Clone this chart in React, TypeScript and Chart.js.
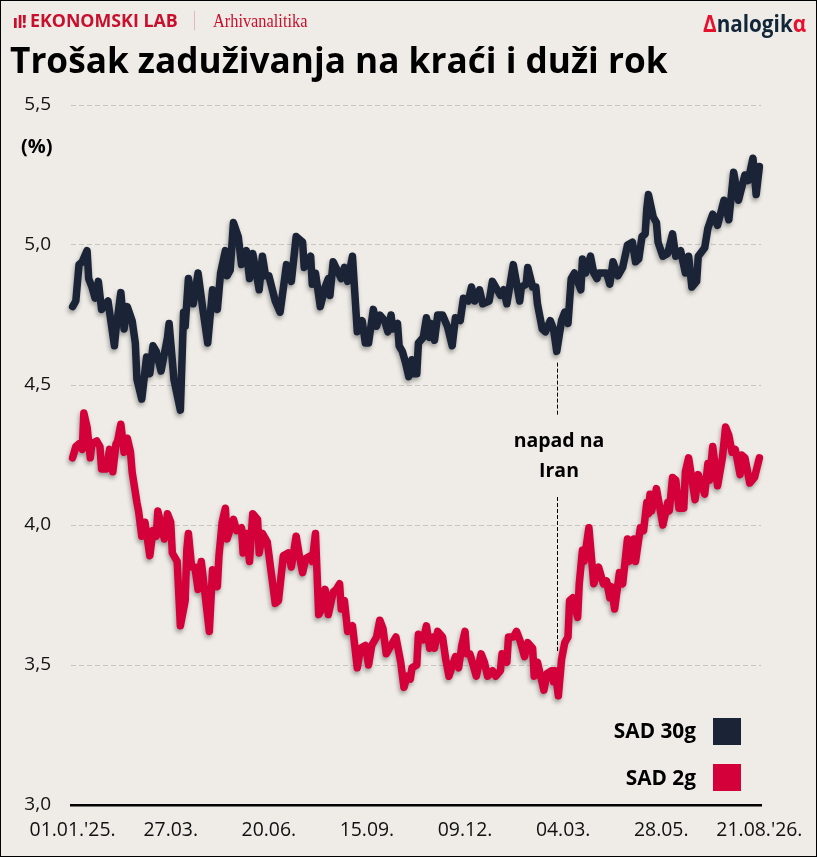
import { useEffect, useRef } from "react";
import Chart from "chart.js/auto";

const tickDays = [0, 61, 122, 183, 244, 305, 366, 427];
const tickLabels = ["01.01.'25.", "27.03.", "20.06.", "15.09.", "09.12.", "04.03.", "28.05.", "21.08.'26."];

// trading day index since 01.01.2025, values in %
const days30y = [
  0, 2, 4, 6, 9, 10, 12, 14, 16, 18, 22, 26, 27, 30, 32, 34, 37, 39, 40, 43, 46, 48, 50, 52, 55, 59, 60, 63, 67, 69,
  70, 72, 75, 78, 81, 84, 87, 90, 92, 95, 96, 98, 100, 103, 105, 108, 110, 112, 116, 118, 120, 122, 126, 129, 133, 136, 139, 143, 144, 148,
  149, 151, 154, 157, 159, 160, 162, 167, 169, 171, 174, 177, 180, 182, 184, 187, 189, 191, 194, 196, 198, 199, 202, 203, 205, 207, 209, 211, 212, 214,
  215, 218, 220, 222, 223, 225, 227, 230, 233, 236, 238, 241, 243, 246, 248, 250, 253, 255, 259, 261, 266, 268, 270, 274, 278, 279, 282, 283, 286, 288,
  289, 292, 294, 297, 299, 301, 304, 306, 308, 310, 312, 316, 317, 319, 322, 324, 326, 327, 332, 334, 336, 339, 342, 345, 348, 350, 352, 354, 356, 357,
  358, 361, 363, 364, 367, 370, 373, 375, 378, 381, 383, 385, 388, 389, 393, 395, 398, 401, 405, 408, 411, 414, 418, 420, 423, 425, 427,
];
const values30y = [
  4.78, 4.8, 4.93, 4.94, 4.98, 4.88, 4.85, 4.81, 4.87, 4.77, 4.8, 4.64, 4.7, 4.83, 4.7, 4.78, 4.73, 4.65, 4.52, 4.45, 4.6, 4.54, 4.64, 4.62, 4.55, 4.67, 4.72, 4.52, 4.41, 4.76,
  4.71, 4.88, 4.79, 4.9, 4.77, 4.65, 4.84, 4.77, 4.9, 4.98, 4.89, 4.91, 5.08, 5.03, 4.93, 4.98, 4.88, 4.97, 4.84, 4.96, 4.89, 4.89, 4.8, 4.76, 4.93, 4.87, 5.03, 5.01, 4.92, 4.96,
  4.86, 4.9, 4.78, 4.85, 4.88, 4.82, 4.94, 4.88, 4.92, 4.87, 4.96, 4.69, 4.73, 4.65, 4.65, 4.77, 4.71, 4.75, 4.73, 4.69, 4.75, 4.7, 4.72, 4.64, 4.62, 4.58, 4.53, 4.59, 4.54, 4.54,
  4.65, 4.67, 4.74, 4.67, 4.72, 4.66, 4.75, 4.75, 4.71, 4.64, 4.74, 4.73, 4.81, 4.8, 4.85, 4.8, 4.84, 4.79, 4.8, 4.87, 4.82, 4.84, 4.79, 4.93, 4.8, 4.85, 4.86, 4.92, 4.85, 4.85,
  4.79, 4.7, 4.69, 4.73, 4.7, 4.62, 4.73, 4.76, 4.72, 4.88, 4.9, 4.84, 4.95, 4.9, 4.96, 4.9, 4.88, 4.9, 4.9, 4.86, 4.94, 4.89, 4.92, 5.0, 5.01, 4.94, 4.95, 5.03, 5.04, 5.13,
  5.18, 5.1, 5.08, 5.01, 4.96, 4.97, 5.04, 4.96, 4.98, 4.9, 4.96, 4.85, 4.87, 4.96, 4.99, 5.06, 5.11, 5.07, 5.16, 5.09, 5.26, 5.16, 5.25, 5.23, 5.31, 5.18, 5.28,
];

const days2y = [
  0, 2, 4, 6, 7, 9, 11, 12, 15, 17, 18, 21, 23, 25, 27, 28, 30, 32, 34, 36, 37, 40, 41, 43, 45, 48, 50, 52, 53, 57,
  59, 61, 62, 65, 67, 70, 71, 72, 74, 76, 78, 80, 85, 87, 90, 91, 93, 95, 96, 100, 102, 105, 106, 108, 110, 112, 115, 116, 118, 121,
  126, 128, 131, 134, 136, 139, 141, 143, 145, 148, 149, 151, 153, 155, 157, 159, 162, 164, 166, 167, 169, 171, 174, 177, 179, 182, 184, 186, 189, 191,
  193, 195, 201, 204, 206, 208, 210, 211, 214, 215, 218, 220, 222, 224, 225, 227, 230, 232, 234, 238, 240, 242, 244, 245, 247, 251, 254, 256, 258, 261,
  263, 266, 267, 270, 271, 274, 276, 278, 281, 283, 286, 287, 289, 291, 293, 295, 298, 299, 300, 302, 304, 306, 308, 309, 311, 314, 315, 317, 318, 321,
  324, 327, 330, 332, 334, 335, 337, 340, 342, 345, 346, 349, 350, 353, 355, 357, 358, 359, 360, 363, 367, 370, 371, 373, 375, 377, 380, 381, 383, 387,
  389, 393, 395, 396, 398, 401, 404, 406, 408, 410, 412, 415, 416, 418, 421, 424, 427,
];
const values2y = [
  4.24, 4.28, 4.29, 4.27, 4.4, 4.35, 4.24, 4.29, 4.3, 4.28, 4.2, 4.2, 4.27, 4.19, 4.29, 4.3, 4.36, 4.26, 4.31, 4.26, 4.19, 4.08, 4.05, 3.96, 4.01, 3.89, 3.98, 3.96, 4.05, 3.95,
  4.04, 4.01, 3.9, 3.87, 3.64, 3.73, 3.91, 3.97, 3.85, 3.85, 3.77, 3.87, 3.62, 3.84, 3.78, 3.89, 4.01, 4.06, 3.95, 4.02, 3.98, 3.99, 3.9, 3.97, 3.87, 4.04, 4.02, 3.9, 3.97, 3.94,
  3.72, 3.73, 3.89, 3.9, 3.85, 3.96, 3.89, 3.83, 3.88, 3.89, 3.87, 3.97, 3.68, 3.7, 3.77, 3.68, 3.76, 3.77, 3.79, 3.7, 3.73, 3.62, 3.64, 3.49, 3.56, 3.57, 3.5, 3.57, 3.6, 3.66,
  3.63, 3.54, 3.6, 3.51, 3.42, 3.46, 3.45, 3.49, 3.5, 3.61, 3.59, 3.64, 3.56, 3.6, 3.56, 3.62, 3.6, 3.52, 3.46, 3.53, 3.49, 3.57, 3.62, 3.54, 3.54, 3.46, 3.54, 3.51, 3.46, 3.48,
  3.46, 3.48, 3.54, 3.51, 3.6, 3.6, 3.62, 3.59, 3.53, 3.58, 3.56, 3.46, 3.51, 3.46, 3.41, 3.47, 3.48, 3.44, 3.48, 3.39, 3.52, 3.58, 3.6, 3.73, 3.74, 3.67, 3.79, 3.91, 3.87, 3.99,
  3.79, 3.85, 3.79, 3.8, 3.74, 3.78, 3.7, 3.83, 3.79, 3.95, 3.87, 3.95, 3.87, 3.99, 3.98, 4.08, 4.04, 4.11, 4.05, 4.13, 4.0, 4.08, 4.05, 4.17, 4.16, 4.06, 4.06, 4.19, 4.24, 4.09,
  4.18, 4.11, 4.22, 4.16, 4.28, 4.14, 4.24, 4.35, 4.32, 4.26, 4.27, 4.18, 4.25, 4.24, 4.15, 4.17, 4.24,
];

const seriesNames = ["SAD 30g", "SAD 2g"];
const seriesColors = ["#1a2436", "#d4003a"];

const eventDay = 301;
const eventSegments = [[4.58, 4.39], [4.1, 3.55]];
const eventLines = [{ text: "napad na", y: 4.298 }, { text: "Iran", y: 4.191 }];

const uiFont = '"Open Sans", "Noto Sans", sans-serif';

const pointsOf = (xs: number[], ys: number[]) => xs.map((x, i) => ({ x, y: ys[i] }));

// soft drop shadow under the two lines
const lineShadow = {
  id: "lineShadow",
  beforeDatasetDraw(chart: any) {
    const { ctx } = chart;
    ctx.save();
    ctx.shadowColor = "rgba(40,40,40,0.4)";
    ctx.shadowBlur = 4;
    ctx.shadowOffsetX = -1;
    ctx.shadowOffsetY = 3;
  },
  afterDatasetDraw(chart: any) {
    chart.ctx.restore();
  },
};

const eventMarker = {
  id: "eventMarker",
  afterDatasetsDraw(chart: any) {
    const { ctx, scales } = chart;
    const x = Math.round(scales.x.getPixelForValue(eventDay)) + 0.5;
    ctx.save();
    ctx.strokeStyle = "#000";
    ctx.lineWidth = 1;
    ctx.setLineDash([4, 2]);
    eventSegments.forEach(([from, to]) => {
      ctx.beginPath();
      ctx.moveTo(x, scales.y.getPixelForValue(from));
      ctx.lineTo(x, scales.y.getPixelForValue(to));
      ctx.stroke();
    });
    ctx.fillStyle = "#000";
    ctx.font = `bold 19.5px ${uiFont}`;
    ctx.textAlign = "center";
    ctx.textBaseline = "middle";
    eventLines.forEach((l) => ctx.fillText(l.text, x + 1.5, scales.y.getPixelForValue(l.y)));
    ctx.restore();
  },
};

function YieldChart() {
  const canvasRef = useRef<HTMLCanvasElement | null>(null);

  useEffect(() => {
    if (!canvasRef.current) {
      return;
    }
    const chart = new Chart(canvasRef.current, {
      type: "line",
      data: {
        datasets: [
          { label: seriesNames[0], data: pointsOf(days30y, values30y), borderColor: seriesColors[0] },
          { label: seriesNames[1], data: pointsOf(days2y, values2y), borderColor: seriesColors[1] },
        ],
      },
      plugins: [lineShadow, eventMarker],
      options: {
        animation: false,
        responsive: false,
        devicePixelRatio: 1,
        layout: { padding: { top: 105, right: 56, left: 0, bottom: 0 } },
        elements: {
          line: { borderWidth: 7.5, borderJoinStyle: "round", borderCapStyle: "round", tension: 0 },
          point: { radius: 0 },
        },
        datasets: { line: { clip: false } },
        plugins: { legend: { display: false }, tooltip: { enabled: false } },
        scales: {
          x: {
            type: "linear",
            min: -1,
            max: 428,
            grid: { display: false, drawTicks: false },
            border: { color: "#000", width: 2.5 },
            afterBuildTicks: (scale: any) => {
              scale.ticks = tickDays.map((value) => ({ value }));
            },
            afterFit: (scale: any) => {
              scale.height = 52;
            },
            ticks: {
              autoSkip: false,
              maxRotation: 0,
              padding: 14,
              color: "#111",
              font: { family: uiFont, size: 19.4 },
              callback: (_v: any, i: number) => tickLabels[i],
            },
          },
          y: {
            min: 3,
            max: 5.5,
            grid: { color: "#c9c6c1", lineWidth: 1, tickLength: 0 },
            border: { display: false, dash: [5, 3] },
            afterFit: (scale: any) => {
              scale.width = 71;
            },
            ticks: {
              stepSize: 0.5,
              padding: 20,
              color: "#111",
              font: { family: uiFont, size: 19 },
              callback: (v: any) => Number(v).toFixed(1).replace(".", ","),
            },
          },
        },
      },
    } as any);
    return () => chart.destroy();
  }, []);

  return <canvas ref={canvasRef} width={817} height={857} style={{ position: "absolute", left: 0, top: 0 }} />;
}

const textAt = (left: number, top: number, extra: any = {}): any => ({
  position: "absolute",
  left,
  top,
  whiteSpace: "nowrap",
  lineHeight: 1,
  fontFamily: uiFont,
  ...extra,
});

export default function App() {
  const red = "#c8102e";
  return (
    <div
      style={{
        position: "absolute",
        left: 0,
        top: 0,
        width: 817,
        height: 857,
        overflow: "hidden",
        background: "#efece7",
        boxShadow: "inset 0 0 0 1px #000",
      }}
    >
      <YieldChart />
      <div style={textAt(13, 12, { color: red, fontSize: 18, fontWeight: 800, transform: "scaleX(0.8)", transformOrigin: "left" })}>ıl!</div>
      <div style={textAt(30, 12, { color: red, fontSize: 17.8, fontWeight: 700 })}>EKONOMSKI LAB</div>
      <div style={{ position: "absolute", left: 194, top: 11, width: 1, height: 19, background: "#e3b9b9" }} />
      <div style={textAt(213, 11, { color: red, fontSize: 19, fontFamily: '"Liberation Serif", serif', transform: "scaleX(0.86)", transformOrigin: "left" })}>Arhivanalitika</div>
      <div style={textAt(703, 12, { color: "#12263a", fontSize: 23, fontWeight: 700, transform: "scaleX(0.9)", transformOrigin: "left" })}>
        <span style={{ color: "#e8112d" }}>Δ</span>nalogik<span style={{ color: "#e8112d" }}>α</span>
      </div>
      <div style={textAt(10, 42, { color: "#000", fontSize: 35.2, fontWeight: 700 })}>Trošak zaduživanja na kraći i duži rok</div>
      <div style={textAt(21, 136, { color: "#000", fontSize: 20, fontWeight: 700 })}>(%)</div>
      <div style={textAt(0, 720, { width: 696, textAlign: "right", color: "#000", fontSize: 20.8, fontWeight: 700 })}>{seriesNames[0]}</div>
      <div style={{ position: "absolute", left: 713, top: 718, width: 28, height: 27, background: seriesColors[0] }} />
      <div style={textAt(0, 767, { width: 696, textAlign: "right", color: "#000", fontSize: 20.8, fontWeight: 700 })}>{seriesNames[1]}</div>
      <div style={{ position: "absolute", left: 713, top: 764, width: 28, height: 27, background: seriesColors[1] }} />
    </div>
  );
}
